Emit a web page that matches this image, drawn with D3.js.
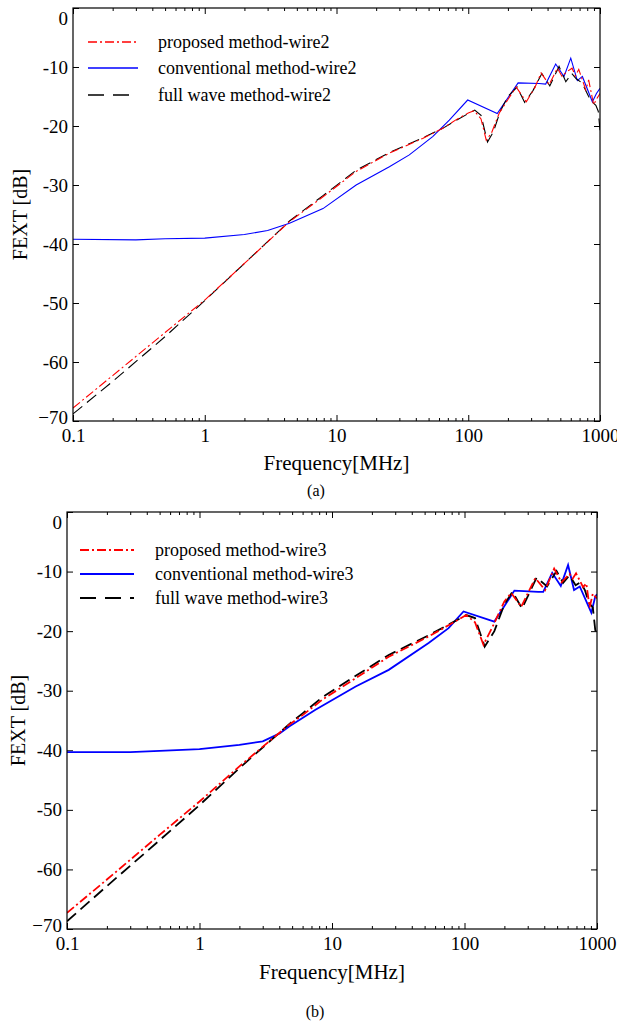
<!DOCTYPE html>
<html>
<head>
<meta charset="utf-8">
<script src="https://cdn.jsdelivr.net/npm/d3@7"></script>
<style>
  body { margin: 0; background: #fff; }
  text { font-family: "Liberation Serif", "Times New Roman", serif; fill: #000; }
</style>
</head>
<body>
<div id="chart"></div>
<script>
// ---- data ----
var xTicks = [0.1, 1, 10, 100, 1000];
var xTickLabels = ["0.1", "1", "10", "100", "1000"];
var yTicks = [0, -10, -20, -30, -40, -50, -60, -70];
var yTickLabels = ["0", "-10", "-20", "-30", "-40", "-50", "-60", "\u221270"];

// panel (a), wire2
var propFreqA = [0.1, 0.2, 0.5, 1, 2, 4.4, 7.9, 14.1, 25.2, 45.1, 64, 80, 100, 111, 125, 137, 150, 172, 200, 231, 276, 320, 357, 411, 475, 515, 560, 614, 650, 690, 780, 820, 895, 950, 1000];
var propA = [-67.8, -62.3, -55.0, -49.5, -43.3, -36.2, -32.0, -27.7, -24.6, -22.1, -20.4, -19.0, -17.8, -17.4, -18.8, -22.4, -21.2, -17.8, -15.5, -13.4, -15.9, -13.5, -11.0, -13.0, -10.2, -11.6, -10.8, -10.2, -11.5, -10.4, -13.9, -12.2, -16.4, -15.3, -14.5];
var fullFreqA = [0.1, 0.2, 0.5, 1, 2, 4.4, 7.9, 14.1, 25.2, 45.1, 64, 80, 100, 112, 125, 140, 155, 175, 200, 235, 268, 310, 362, 416, 489, 550, 610, 660, 731, 820, 871, 930, 970, 1000];
var fullA = [-68.8, -63.3, -55.7, -49.6, -43.3, -36.1, -31.8, -27.5, -24.5, -22.0, -20.4, -19.1, -17.9, -17.3, -18.2, -22.7, -21.0, -17.5, -15.0, -13.4, -16.0, -14.0, -11.1, -13.2, -9.9, -12.5, -11.1, -12.0, -12.7, -15.0, -15.9, -16.5, -17.5, -20.7];
var convFreqA = [0.1, 0.3, 0.5, 1, 2, 3, 4.4, 7.9, 14.1, 25.2, 35.7, 53.7, 71.8, 99, 166, 239, 345, 387, 461, 533, 600, 673, 735, 875, 940, 1000];
var convA = [-39.2, -39.3, -39.1, -39.0, -38.4, -37.7, -36.5, -34.0, -30.0, -26.9, -24.9, -21.8, -19.0, -15.6, -17.9, -12.7, -12.8, -12.9, -9.5, -11.6, -8.5, -12.3, -11.6, -15.9, -14.5, -13.6];

// panel (b), wire3
var propFreqB = [0.1, 0.2, 0.5, 1, 2, 4.75, 6, 8.45, 15.1, 26.8, 53.6, 75.8, 103, 120, 139, 165, 200, 225, 268, 342, 406, 475, 540, 620, 655, 695, 785, 830, 880, 930, 1000];
var propB = [-67.3, -61.7, -54.2, -48.6, -42.7, -35.7, -34.1, -31.5, -27.9, -24.3, -20.9, -19.0, -17.3, -18.5, -22.3, -19.0, -15.0, -13.6, -15.9, -11.1, -13.1, -9.5, -11.8, -10.4, -11.2, -10.3, -12.6, -12.0, -16.0, -13.7, -14.5];
var fullFreqB = [0.1, 0.2, 0.5, 1, 2, 4.75, 6, 8.45, 15.1, 26.8, 53.6, 75.8, 103, 120, 142, 168, 200, 230, 272, 350, 420, 495, 555, 620, 690, 750, 810, 870, 930, 970, 1000];
var fullB = [-68.7, -62.8, -55.1, -49.2, -43.0, -35.6, -33.8, -31.1, -27.5, -24.0, -20.7, -18.9, -17.3, -17.8, -22.6, -20.0, -15.5, -13.4, -16.2, -11.0, -12.5, -9.9, -11.9, -10.6, -12.3, -11.8, -13.1, -15.3, -16.0, -19.8, -20.5];
var convFreqB = [0.1, 0.3, 0.5, 1, 2, 3, 4, 4.75, 7.5, 15.1, 26.8, 53.6, 75.8, 98.3, 168, 238, 360, 393, 459, 533, 605, 671, 741, 906, 970, 1000];
var convB = [-40.3, -40.3, -40.1, -39.8, -39.1, -38.5, -37.2, -36.0, -33.2, -29.3, -26.5, -22.0, -19.5, -16.7, -18.4, -13.2, -13.4, -13.4, -10.2, -12.4, -8.9, -13.1, -12.5, -16.9, -14.2, -13.8];

var W = 617, H = 1025;
var FONT = '"Liberation Serif", "Times New Roman", serif';
var svg = d3.select("#chart").append("svg")
    .attr("width", W)
    .attr("height", H);

function zip(fs, vs) {
    return fs.map(function (f, i) { return [f, vs[i]]; });
}

function drawPanel(p) {
    var x = d3.scaleLog().domain([0.1, 1000]).range([p.left, p.right]);
    var y = d3.scaleLinear().domain([-70, 0]).range([p.bottom, p.top]);

    var g = svg.append("g");

    // clip for the curves
    g.append("clipPath").attr("id", "clip" + p.id)
        .append("rect")
        .attr("x", p.left).attr("y", p.top)
        .attr("width", p.right - p.left).attr("height", p.bottom - p.top);

    var minor = [];
    [0.1, 1, 10, 100].forEach(function (d) {
        for (var k = 2; k <= 9; k++) minor.push(d * k);
    });

    // bottom axis (ticks inward)
    var bx = g.append("g")
        .attr("transform", "translate(0," + p.bottom + ")")
        .call(d3.axisBottom(x).tickValues(xTicks)
            .tickFormat(function (d, i) { return xTickLabels[i]; })
            .tickSize(-6).tickPadding(8));
    bx.append("g").call(d3.axisBottom(x).tickValues(minor).tickFormat("").tickSize(-3));

    // top axis
    var tx = g.append("g")
        .attr("transform", "translate(0," + p.top + ")")
        .call(d3.axisTop(x).tickValues(xTicks).tickFormat("").tickSize(-6));
    tx.append("g").call(d3.axisTop(x).tickValues(minor).tickFormat("").tickSize(-3));

    // left axis
    var ly = g.append("g")
        .attr("transform", "translate(" + p.left + ",0)")
        .call(d3.axisLeft(y).tickValues(yTicks)
            .tickFormat(function (d, i) { return yTickLabels[i]; })
            .tickSize(-6).tickPadding(5));

    // right axis
    g.append("g")
        .attr("transform", "translate(" + p.right + ",0)")
        .call(d3.axisRight(y).tickValues(yTicks).tickFormat("").tickSize(-6));

    g.selectAll("g").attr("font-family", FONT);
    g.selectAll(".tick text")
        .style("font-family", FONT)
        .style("font-size", "19px")
        .attr("fill", "#000");
    g.selectAll(".domain").remove();
    g.selectAll(".tick line").attr("stroke", "#000").attr("stroke-width", 1);
    // the 0 label sits a bit lower, the -70 label a bit higher
    ly.selectAll(".tick text").filter(function (d) { return d === 0; }).attr("dy", "0.85em");
    ly.selectAll(".tick text").filter(function (d) { return d === -70; }).attr("dy", "0.15em");

    // curves
    var line = d3.line()
        .x(function (d) { return x(d[0]); })
        .y(function (d) { return y(d[1]); });

    var curves = g.append("g").attr("clip-path", "url(#clip" + p.id + ")");
    curves.append("path")
        .datum(zip(p.convFreq, p.conv))
        .attr("d", line)
        .attr("fill", "none").attr("stroke", "#0000ff").attr("stroke-width", p.lw);
    curves.append("path")
        .datum(zip(p.fullFreq, p.full))
        .attr("d", line)
        .attr("fill", "none").attr("stroke", "#000").attr("stroke-width", p.lw)
        .attr("stroke-dasharray", "12,6");
    curves.append("path")
        .datum(zip(p.propFreq, p.prop))
        .attr("d", line)
        .attr("fill", "none").attr("stroke", "#ff0000").attr("stroke-width", p.lw)
        .attr("stroke-dasharray", "9,3,2,3");

    // frame
    g.append("rect")
        .attr("x", p.left).attr("y", p.top)
        .attr("width", p.right - p.left).attr("height", p.bottom - p.top)
        .attr("fill", "none").attr("stroke", "#000").attr("stroke-width", 1.2);

    // legend
    var leg = [
        { name: "proposed method-" + p.wire, color: "#ff0000", dash: "9,3,2,3" },
        { name: "conventional method-" + p.wire, color: "#0000ff", dash: null },
        { name: "full wave method-" + p.wire, color: "#000", dash: "16,9" }
    ];
    leg.forEach(function (l, i) {
        var ly0 = p.legY[i];
        g.append("line")
            .attr("x1", p.legX1).attr("x2", p.legX2)
            .attr("y1", ly0).attr("y2", ly0)
            .attr("stroke", l.color).attr("stroke-width", p.lw + 0.3)
            .attr("stroke-dasharray", l.dash);
        g.append("text")
            .attr("x", p.legText).attr("y", ly0)
            .attr("dy", "0.33em")
            .style("font-size", "18px")
            .text(l.name);
    });

    // axis titles
    g.append("text")
        .attr("transform", "translate(" + p.yTitleX + "," + ((p.top + p.bottom) / 2) + ") rotate(-90)")
        .attr("text-anchor", "middle")
        .attr("dy", "0.33em")
        .style("font-size", "20px")
        .text("FEXT [dB]");
    g.append("text")
        .attr("x", (p.left + p.right) / 2).attr("y", p.xTitleY)
        .attr("text-anchor", "middle")
        .attr("dy", "0.33em")
        .style("font-size", "21px")
        .text("Frequency[MHz]");
    g.append("text")
        .attr("x", p.capX).attr("y", p.capY)
        .attr("text-anchor", "middle")
        .attr("dy", "0.33em")
        .style("font-size", "16px")
        .text(p.caption);
}

drawPanel({
    id: "a", wire: "wire2", caption: "(a)",
    left: 73, right: 600, top: 8, bottom: 421, lw: 1.1,
    propFreq: propFreqA, prop: propA, fullFreq: fullFreqA, full: fullA,
    convFreq: convFreqA, conv: convA,
    legX1: 88, legX2: 138, legText: 158, legY: [42, 68, 95],
    yTitleX: 20, xTitleY: 463, capX: 316, capY: 491
});

drawPanel({
    id: "b", wire: "wire3", caption: "(b)",
    left: 67, right: 597, top: 512, bottom: 929, lw: 1.8,
    propFreq: propFreqB, prop: propB, fullFreq: fullFreqB, full: fullB,
    convFreq: convFreqB, conv: convB,
    legX1: 80, legX2: 134, legText: 155, legY: [550, 574, 598],
    yTitleX: 18, xTitleY: 972, capX: 315, capY: 1012
});
</script>
</body>
</html>
